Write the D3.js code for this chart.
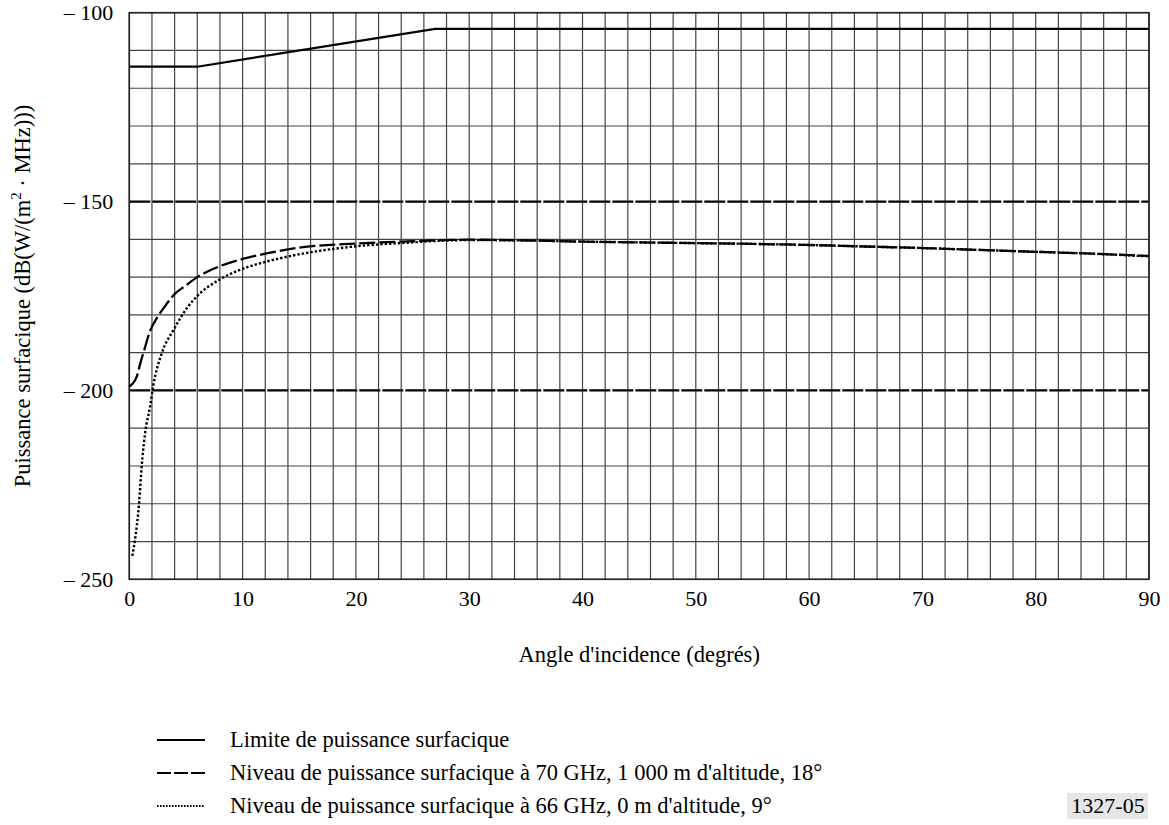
<!DOCTYPE html>
<html>
<head>
<meta charset="utf-8">
<script src="https://cdn.jsdelivr.net/npm/d3@7"></script>
<style>
  body { margin: 0; background: #fff; }
  svg { font-family: "Liberation Serif", "Times New Roman", serif; }
</style>
</head>
<body>
<svg width="1169" height="825"></svg>
<script>
// limit mask
var anglesLimit = [0, 6, 27, 90];
var limitValues = [-114.3, -114.3, -104.3, -104.3];

// 70 GHz, 1 000 m, 18 deg
var angles70 = [0, 0.3, 0.65, 1.0, 1.3, 1.8, 2.5, 3.2, 4, 5, 6, 7, 8, 10, 12, 15, 20, 25, 28, 30, 35, 40, 45, 50, 55, 60, 65, 70, 75, 80, 85, 90];
var pfd70 = [-199, -198.2, -196.4, -192.5, -189.5, -184.5, -180.5, -177.5, -174.5, -172.2, -170, -168.4, -167.1, -165.2, -163.8, -162.2, -161.1, -160.5, -160.2, -160.1, -160.3, -160.6, -160.8, -161, -161.2, -161.5, -161.9, -162.3, -162.8, -163.3, -163.8, -164.4];

// 66 GHz, 0 m, 9 deg
var angles66 = [0.27, 0.5, 0.86, 1.09, 1.39, 1.83, 2.1, 2.86, 3.9, 5.06, 6.24, 8, 10.1, 12.1, 15.1, 19.5, 25, 28, 30, 35, 40, 45, 50, 55, 60, 65, 70, 75, 80, 85, 90];
var pfd66 = [-243.8, -239.6, -229.9, -220.2, -211.4, -204.3, -199, -190.2, -184, -178.3, -174.3, -170.6, -167.7, -165.9, -163.9, -162, -160.8, -160.3, -160.2, -160.3, -160.6, -160.8, -161, -161.2, -161.5, -161.9, -162.3, -162.8, -163.3, -163.8, -164.5];

var xTicks = [0, 10, 20, 30, 40, 50, 60, 70, 80, 90];
var yTicks = [-100, -150, -200, -250];
var yBold = [-150, -200];

var legendLabels = [
  "Limite de puissance surfacique",
  "Niveau de puissance surfacique à 70 GHz, 1 000 m d'altitude, 18°",
  "Niveau de puissance surfacique à 66 GHz, 0 m d'altitude, 9°"
];

var svg = d3.select("svg");
var pLeft = 129.3, pRight = 1149, pTop = 12.7, pBottom = 579.3;

var x = d3.scaleLinear().domain([0, 90]).range([pLeft, pRight]);
var y = d3.scaleLinear().domain([-250, -100]).range([pBottom, pTop]);

// grid
var grid = svg.append("g");
grid.selectAll("line.v")
  .data(d3.range(0, 91, 2))
  .enter().append("line")
  .attr("x1", function (d) { return x(d); })
  .attr("x2", function (d) { return x(d); })
  .attr("y1", pTop).attr("y2", pBottom)
  .style("stroke", "#444")
  .style("stroke-width", 1.2);

grid.selectAll("line.h")
  .data(d3.range(-250, -99, 10).filter(function (d) { return yBold.indexOf(d) < 0; }))
  .enter().append("line")
  .attr("x1", pLeft).attr("x2", pRight)
  .attr("y1", function (d) { return y(d); })
  .attr("y2", function (d) { return y(d); })
  .style("stroke", "#444")
  .style("stroke-width", 1.2);

grid.selectAll("line.b")
  .data(yBold)
  .enter().append("line")
  .attr("x1", pLeft).attr("x2", pRight)
  .attr("y1", function (d) { return y(d); })
  .attr("y2", function (d) { return y(d); })
  .style("stroke", "#000")
  .style("stroke-width", 2.2)
  .style("stroke-dasharray", "21,2");

// frame
svg.append("rect")
  .attr("x", pLeft).attr("y", pTop)
  .attr("width", pRight - pLeft).attr("height", pBottom - pTop)
  .style("fill", "none")
  .style("stroke", "#222")
  .style("stroke-width", 1.6);

// axes
var xAxis = svg.append("g")
  .attr("transform", "translate(0," + pBottom + ")")
  .call(d3.axisBottom(x).tickValues(xTicks).tickSize(0).tickPadding(11));
xAxis.select(".domain").remove();
xAxis.selectAll("text")
  .style("font-family", "Liberation Serif")
  .style("font-size", "22px")
  .style("fill", "#000");

var yAxis = svg.append("g")
  .attr("transform", "translate(" + pLeft + ",0)")
  .call(d3.axisLeft(y).tickValues(yTicks).tickSize(0).tickPadding(16)
    .tickFormat(function (d) { return "– " + Math.abs(d); }));
yAxis.select(".domain").remove();
yAxis.selectAll("text")
  .style("font-family", "Liberation Serif")
  .style("font-size", "22px")
  .style("fill", "#000");

// axis titles
svg.append("text")
  .attr("x", (pLeft + pRight) / 2)
  .attr("y", 662)
  .attr("text-anchor", "middle")
  .style("font-size", "22.5px")
  .text("Angle d'incidence (degrés)");

var yt = svg.append("text")
  .attr("transform", "translate(30," + ((pTop + pBottom) / 2) + ") rotate(-90)")
  .attr("text-anchor", "middle")
  .style("font-size", "22.5px");
yt.append("tspan").text("Puissance surfacique (dB(W/(m");
yt.append("tspan").attr("dy", -9).style("font-size", "15px").text("2");
yt.append("tspan").attr("dy", 9).text(" · MHz)))");

// curves
var line = d3.line()
  .x(function (d) { return x(d[0]); })
  .y(function (d) { return y(d[1]); });

var series = [
  { pts: d3.zip(anglesLimit, limitValues), dash: null, w: 2.2, curve: d3.curveLinear },
  { pts: d3.zip(angles70, pfd70), dash: "16,4", w: 2.3, curve: d3.curveMonotoneX },
  { pts: d3.zip(angles66, pfd66), dash: "2.4,2", w: 2.4, curve: d3.curveMonotoneX }
];

svg.append("g").selectAll("path")
  .data(series)
  .enter().append("path")
  .attr("d", function (d) { return line.curve(d.curve)(d.pts); })
  .style("fill", "none")
  .style("stroke", "#000")
  .style("stroke-width", function (d) { return d.w; })
  .style("stroke-dasharray", function (d) { return d.dash; });

// legend
var legendDash = [null, "14,3", "1.6,1.4"];
var legend = svg.append("g").selectAll("g")
  .data(legendLabels)
  .enter().append("g")
  .attr("transform", function (d, i) { return "translate(0," + (740 + i * 33) + ")"; });

legend.append("line")
  .attr("x1", 157).attr("x2", 205)
  .style("stroke", "#000")
  .style("stroke-width", function (d, i) { return i == 2 ? 1.8 : 2.2; })
  .style("stroke-dasharray", function (d, i) { return legendDash[i]; });

legend.append("text")
  .attr("x", 230)
  .attr("y", 7)
  .style("font-size", "22.5px")
  .text(function (d) { return d; });

// figure number
svg.append("rect")
  .attr("x", 1067).attr("y", 793)
  .attr("width", 81).attr("height", 26)
  .style("fill", "#e6e6e6");
svg.append("text")
  .attr("x", 1108).attr("y", 813)
  .attr("text-anchor", "middle")
  .style("font-size", "22px")
  .text("1327-05");
</script>
</body>
</html>
